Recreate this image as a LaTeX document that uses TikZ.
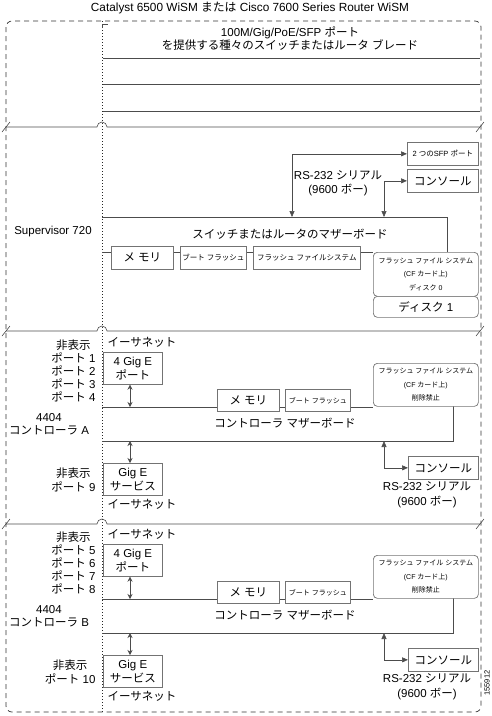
\documentclass[tikz,border=0pt]{standalone}
\usepackage{fontspec}
\setmainfont{Liberation Sans}
\newfontfamily\latf{Liberation Sans}
\newfontfamily\jpf{Noto Sans CJK JP}
\XeTeXinterchartokenstate=1
\chardef\jclass=7
\count255="3000
\loop\XeTeXcharclass\count255=\jclass\advance\count255 by 1\ifnum\count255<"3100\repeat
\count255="4E00
\loop\XeTeXcharclass\count255=\jclass\advance\count255 by 1\ifnum\count255<"A000\repeat
\count255="FF00
\loop\XeTeXcharclass\count255=\jclass\advance\count255 by 1\ifnum\count255<"FFF0\repeat
\XeTeXinterchartoks 0 \jclass = {\jpf}
\XeTeXinterchartoks 4095 \jclass = {\jpf}
\XeTeXinterchartoks \jclass 0 = {\latf}
\XeTeXinterchartoks \jclass 4095 = {\latf}
\usetikzlibrary{arrows.meta}
\begin{document}
\begin{tikzpicture}[x=1pt,y=-1pt,
  ln/.style={draw=black!70, line width=0.6pt},
  bx/.style={draw=black!55, line width=0.7pt, fill=white, inner sep=1pt, anchor=north west, align=center},
  rbx/.style={bx, rounded corners=4pt},
  big/.style={font=\fontsize{11.5}{13}\selectfont},
  mid/.style={font=\fontsize{7.5}{13}\selectfont},
  sml/.style={font=\fontsize{7}{13.5}\selectfont},
  arr/.style={ln, {Triangle[length=6pt,width=5pt]}-{Triangle[length=6pt,width=5pt]}},
  darr/.style={ln, {Stealth[length=5pt,width=5pt]}-{Stealth[length=5pt,width=5pt]}},
  brk/.style={ln},
  border/.style={draw=black!80, line width=0.7pt, dash pattern=on 5pt off 4pt, rounded corners=6pt},
  divider/.style={draw=black!85, line width=1pt, dash pattern=on 1pt off 2pt}
]
\useasboundingbox (0,0) rectangle (492,716);

% title
\node[font=\fontsize{11.8}{13}\selectfont] (title) at (250,8) {Catalyst 6500 WiSM または Cisco 7600 Series Router WiSM};

% outer border and divider
\draw[border] (6,21) rectangle (481,712);
\draw[divider] (102,21) -- (102,712);
\draw[ln] (102,28) -- (102,24) -- (108,24);

% section breaks
\foreach \y in {127,331,524} {
  \draw[brk] (2,\y+5) -- (10,\y-5);
  \draw[brk] (6,\y) -- (97,\y) arc (180:360:5) -- (480,\y);
  \draw[brk] (476,\y+5) -- (484,\y-5);
}

% top blades
\node[big, align=center] (blade) at (290,38.5) {100M/Gig/PoE/SFP ポート\\を提供する種々のスイッチまたはルータ ブレード};
\foreach \y in {58,84,111} { \draw[ln] (103,\y) -- (480,\y); }

% Supervisor 720
\node[big] (sup) at (53,232) {Supervisor 720};
\draw[ln] (102,217) -- (447,217) -- (447,252);
\draw[ln] (102,252) -- (373,252);
\node[big] (mbS) at (290,234) {スイッチまたはルータのマザーボード};
\coordinate (mbS1) at (292,217);
\coordinate (mbS2) at (384,217);
\node[bx, mid, minimum width=71, minimum height=23] (sfp) at (407,142) {2 つのSFP ポート};
\node[bx, big, minimum width=71, minimum height=23] (conS) at (407,169) {コンソール};
\draw[arr] (sfp.west) -| (mbS1);
\draw[arr] (conS.west) -| (mbS2);
\node[big, align=center, font=\fontsize{11.5}{13.5}\selectfont] (rsS) at (338,183.5) {RS-232 シリアル\\(9600 ボー)};
\node[bx, big, minimum width=62, minimum height=23] (memS) at (111,246) {メ モリ};
\node[bx, mid, minimum width=66, minimum height=23] (bootS) at (180,246) {ブート フラッシュ};
\node[bx, mid, minimum width=107, minimum height=23] (ffsS) at (253,246) {フラッシュ ファイルシステム};
\node[rbx, big, minimum width=105, minimum height=21] (disk1) at (373,296) {ディスク 1};
\node[rbx, sml, minimum width=105, minimum height=44] (flS) at (373,252) {フラッシュ ファイル システム\\(CF カード上)\\ディスク 0};

% Controllers
\foreach \c/\dy/\pa/\pb/\pc/\pd/\pe in {A/0/1/2/3/4/9, B/192/5/6/7/8/10} {
\begin{scope}[shift={(0,\dy)}]
  \node[big, anchor=west] (ethT\c) at (104,342) {イーサネット};
  \node[big, align=center, anchor=east] (ports\c) at (99,371) {非表示\\ポート \pa\\ポート \pb\\ポート \pc\\ポート \pd};
  \node[big, align=center] (ctl\c) at (49,424) {4404\\コントローラ \c};
  \draw[ln] (102,407) -- (373,407);
  \draw[ln] (453,406) -- (453,441) -- (102,441);
  \node[bx, big, minimum width=59, minimum height=32, font=\fontsize{11.5}{14}\selectfont] (gig\c) at (103,352) {4 Gig E\\ポート};
  \node[bx, big, minimum width=62, minimum height=22] (mem\c) at (217,389) {メ モリ};
  \node[bx, sml, minimum width=65, minimum height=22] (boot\c) at (285,389) {ブート フラッシュ};
  \node[rbx, sml, minimum width=105, minimum height=43] (fl\c) at (373,363) {フラッシュ ファイル システム\\(CF カード上)\\削除禁止};
  \node[big] (mb\c) at (285,423) {コントローラ マザーボード};
  \coordinate (mbt\c) at (130,407);
  \coordinate (mbb\c) at (130,441);
  \coordinate (mbc\c) at (384,441);
  \node[bx, big, minimum width=59, minimum height=32, font=\fontsize{11.5}{14}\selectfont] (svc\c) at (103,463) {Gig E\\サービス};
  \draw[darr] (gig\c.south -| mbt\c) -- (mbt\c);
  \draw[darr] (mbb\c) -- (svc\c.north -| mbb\c);
  \node[big, align=center, anchor=east, font=\fontsize{11.5}{14}\selectfont] (hid\c) at (99,480) {非表示\\ポート \pe};
  \node[big, anchor=west] (ethB\c) at (104,504) {イーサネット};
  \node[bx, big, minimum width=70, minimum height=23] (con\c) at (408,456) {コンソール};
  \draw[arr] (mbc\c) |- (con\c.west);
  \node[big, align=center, font=\fontsize{11.5}{15}\selectfont] (rs\c) at (427,494.5) {RS-232 シリアル\\(9600 ボー)};
\end{scope}
}

\node[font=\fontsize{7.5}{8}\selectfont, rotate=90] (fig) at (487,683) {155912};
\end{tikzpicture}
\end{document}
